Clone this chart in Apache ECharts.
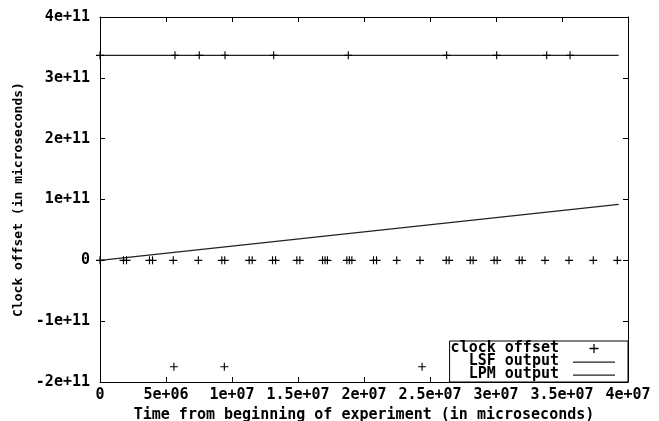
<!DOCTYPE html>
<html>
<head>
<meta charset="utf-8">
<script src="https://cdn.jsdelivr.net/npm/echarts@6/dist/echarts.min.js"></script>
<style>
html,body{margin:0;padding:0;background:#fff;}
#chart{width:659px;height:421px;}
</style>
</head>
<body>
<div id="chart"></div>
<script>
// clock offset measurements (time in microseconds, offset in microseconds)
const offsetTimes = [
  0, 1.78e6, 2.01e6, 3.75e6, 3.98e6, 5.55e6, 7.45e6, 9.23e6, 9.45e6,
  1.13e7, 1.153e7, 1.307e7, 1.33e7, 1.491e7, 1.514e7, 1.686e7, 1.705e7, 1.723e7,
  1.87e7, 1.889e7, 1.908e7, 2.072e7, 2.095e7, 2.248e7, 2.424e7, 2.623e7, 2.645e7,
  2.805e7, 2.827e7, 2.986e7, 3.009e7, 3.176e7, 3.198e7, 3.371e7, 3.553e7, 3.737e7, 3.919e7,
  0, 5.68e6, 7.52e6, 9.47e6, 1.316e7, 1.881e7, 2.626e7, 3.005e7, 3.384e7, 3.561e7,
  5.6e6, 9.42e6, 2.44e7
];
const offsetValues = [
  0, 0, 0, 0, 0, 0, 0, 0, 0,
  0, 0, 0, 0, 0, 0, 0, 0, 0,
  0, 0, 0, 0, 0, 0, 0, 0, 0,
  0, 0, 0, 0, 0, 0, 0, 0, 0, 0,
  3.37e11, 3.37e11, 3.37e11, 3.37e11, 3.37e11, 3.37e11, 3.37e11, 3.37e11, 3.37e11, 3.37e11,
  -1.75e11, -1.75e11, -1.75e11
];
const lsfTimes = [0, 3.93e7];
const lsfValues = [0, 9.2e10];
const lpmTimes = [0, 3.93e7];
const lpmValues = [3.37e11, 3.37e11];

const xTicks = {min: 0, max: 4e7, interval: 5e6};
const yTicks = {min: -2e11, max: 4e11, interval: 1e11};

const seriesNames = ['clock offset ', '  LSF output ', '  LPM output '];
const xTitle = 'Time from beginning of experiment (in microseconds)';
const yTitle = 'Clock offset (in microseconds)';

function gfmt(v) {
  if (v === 0) return '0';
  let s = Number(v).toExponential();
  return s.replace(/e([+-])(\d)$/, 'e$10$2');
}

const FONT = 'DejaVu Sans Mono';
const txt = {fontFamily: FONT, fontSize: 15, fontWeight: 'bold', color: '#000'};
const PLUS = 'path://M4.3,0h1.4v10h-1.4z M0,4.3h10v1.4h-10z';
const LINE_ICON = 'path://M0,0h0.01v0.01h-0.01z M0,4.4h42v1.3h-42z M41.99,8.99h0.01v0.01h-0.01z';

const zip = (a, b) => a.map((x, i) => [x, b[i]]);

const chart = echarts.init(document.getElementById('chart'), null, {renderer: 'canvas'});
chart.setOption({
  animation: false,
  backgroundColor: '#fff',
  textStyle: {fontFamily: FONT},
  grid: {left: 100, right: 31, top: 17, bottom: 39, containLabel: false, outerBoundsMode: 'none'},
  legend: {
    right: 31, bottom: 39, orient: 'vertical', align: 'right',
    borderColor: '#000', borderWidth: 1, backgroundColor: '#fff',
    padding: [0, 13, 0, 1], itemGap: -2, itemWidth: 42, itemHeight: 9,
    textStyle: Object.assign({lineHeight: 13}, txt),
    selectedMode: false,
    data: [
      {name: seriesNames[0]},
      {name: seriesNames[1], icon: LINE_ICON},
      {name: seriesNames[2], icon: LINE_ICON}
    ]
  },
  xAxis: [{
    type: 'value', min: xTicks.min, max: xTicks.max, interval: xTicks.interval,
    name: xTitle, nameLocation: 'middle', nameGap: 24, nameTextStyle: txt,
    axisLine: {show: true, onZero: false, lineStyle: {color: '#000', width: 1}},
    axisTick: {show: true, inside: true, length: 5, lineStyle: {color: '#000'}},
    axisLabel: Object.assign({margin: 6, formatter: gfmt}, txt),
    splitLine: {show: false}
  }, {
    type: 'value', position: 'top', min: xTicks.min, max: xTicks.max, interval: xTicks.interval,
    axisLine: {show: true, onZero: false, lineStyle: {color: '#000', width: 1}},
    axisTick: {show: true, inside: true, length: 5, lineStyle: {color: '#000'}},
    axisLabel: {show: false}, splitLine: {show: false}
  }],
  yAxis: [{
    type: 'value', min: yTicks.min, max: yTicks.max, interval: yTicks.interval,
    name: yTitle, nameLocation: 'middle', nameRotate: 90, nameGap: 72,
    nameTextStyle: Object.assign({}, txt, {fontSize: 13}),
    axisLine: {show: true, onZero: false, lineStyle: {color: '#000', width: 1}},
    axisTick: {show: true, inside: true, length: 5, lineStyle: {color: '#000'}},
    axisLabel: Object.assign({margin: 10, formatter: gfmt}, txt),
    splitLine: {show: false}
  }, {
    type: 'value', position: 'right', min: yTicks.min, max: yTicks.max, interval: yTicks.interval,
    axisLine: {show: true, onZero: false, lineStyle: {color: '#000', width: 1}},
    axisTick: {show: true, inside: true, length: 5, lineStyle: {color: '#000'}},
    axisLabel: {show: false}, splitLine: {show: false}
  }],
  series: [{
    name: seriesNames[0], type: 'scatter', symbol: PLUS, symbolSize: 8, symbolKeepAspect: true,
    itemStyle: {color: '#000', opacity: 1},
    data: zip(offsetTimes, offsetValues), z: 3
  }, {
    name: seriesNames[1], type: 'line', symbol: 'none', showSymbol: false,
    lineStyle: {color: '#222', width: 1.3}, itemStyle: {color: '#222'},
    data: zip(lsfTimes, lsfValues), z: 2
  }, {
    name: seriesNames[2], type: 'line', symbol: 'none', showSymbol: false,
    lineStyle: {color: '#222', width: 1.3}, itemStyle: {color: '#222'},
    data: zip(lpmTimes, lpmValues), z: 2
  }]
});
</script>
</body>
</html>
